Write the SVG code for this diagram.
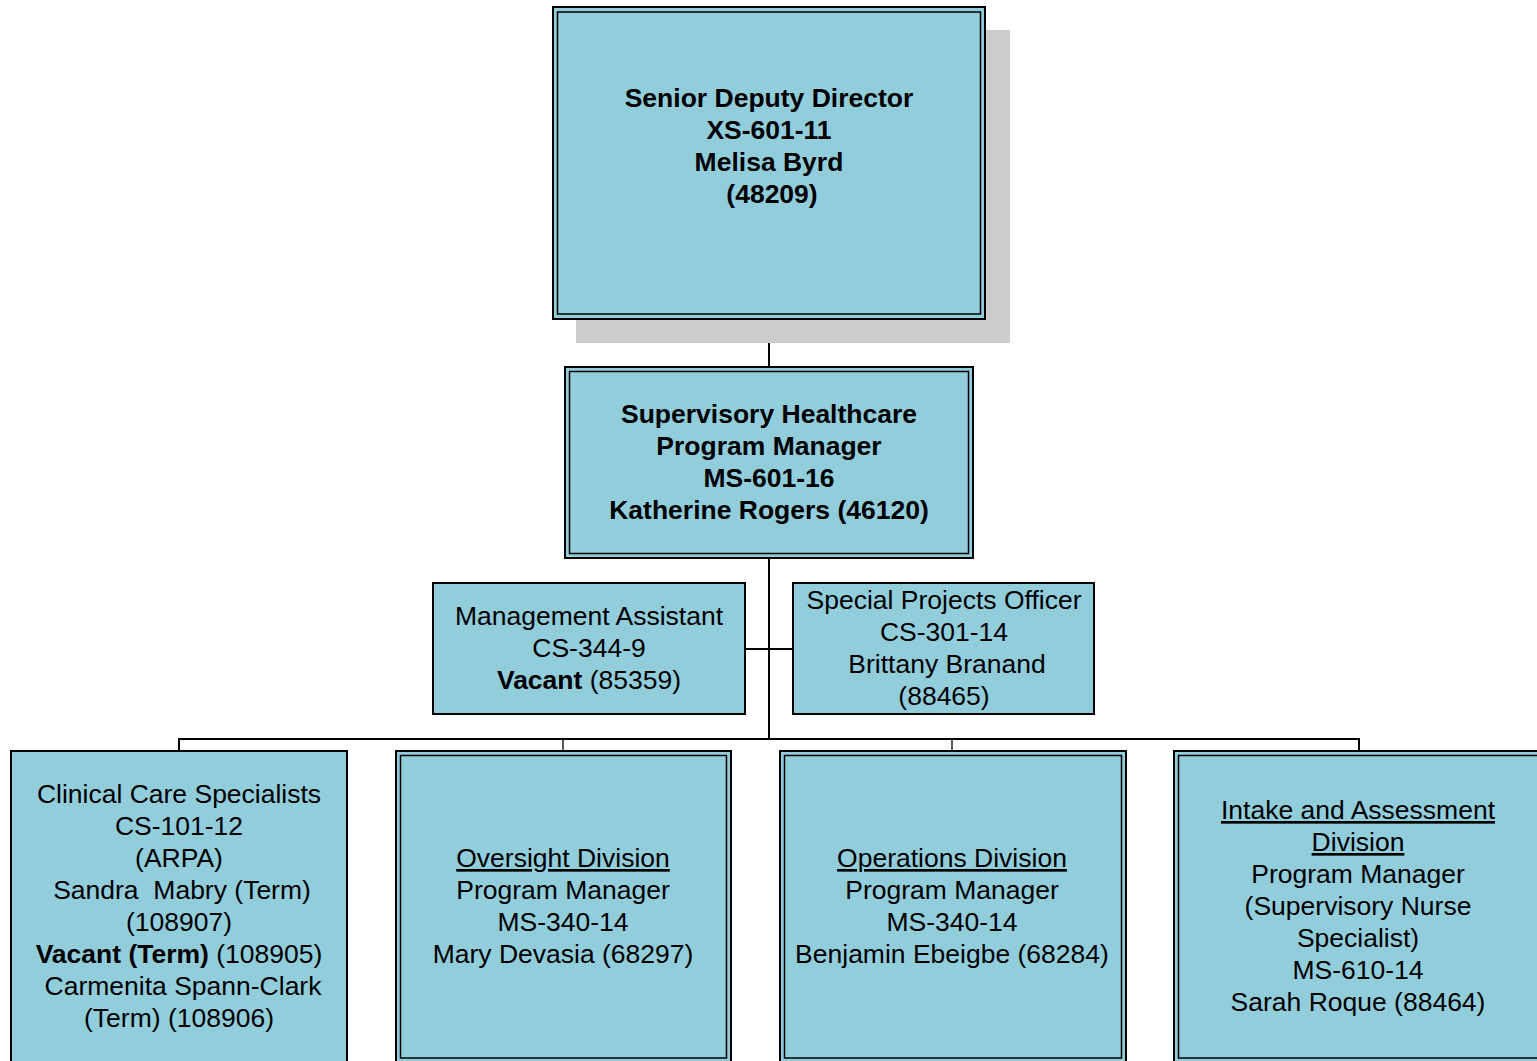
<svg xmlns="http://www.w3.org/2000/svg" width="1537" height="1061" viewBox="0 0 1537 1061">
<style>
.box{fill:#92CDDC;stroke:#000;stroke-width:2}
.inner{fill:none;stroke:#000;stroke-width:1.5}
.t{font-family:"Liberation Sans",Arial,sans-serif;font-size:26.5px;fill:#000;text-anchor:middle}
.b{font-weight:bold}
.u{text-decoration:underline}
.c{stroke:#000;stroke-width:2;fill:none}
.d{stroke:#000;stroke-width:1.3;fill:none}
</style>
<rect width="1537" height="1061" fill="#fff"/>
<g id="connectors">
<line class="c" x1="769" y1="319" x2="769" y2="367"/>
<line class="c" x1="769" y1="558" x2="769" y2="739"/>
<line class="c" x1="745" y1="649" x2="793" y2="649"/>
<line class="c" x1="178" y1="739" x2="1360" y2="739"/>
<line class="c" x1="179" y1="739" x2="179" y2="751"/>
<line class="d" x1="563" y1="739" x2="563" y2="751"/>
<line class="d" x1="952" y1="739" x2="952" y2="751"/>
<line class="c" x1="1359" y1="739" x2="1359" y2="751"/>
</g>
<g id="senior-deputy-director">
<rect x="576" y="30" width="434" height="313" fill="#CCCCCC"/>
<rect class="box" x="553" y="7" width="432" height="312"/>
<rect class="inner" x="557.5" y="12" width="423" height="302"/>
<text class="t b" x="769" y="107">Senior Deputy Director</text>
<text class="t b" x="769" y="139">XS-601-11</text>
<text class="t b" x="769" y="171">Melisa Byrd</text>
<text class="t b" x="772" y="203">(48209)</text>
</g>
<g id="supervisory-healthcare">
<rect class="box" x="565" y="367" width="408" height="191"/>
<rect class="inner" x="569.5" y="371.5" width="399" height="182"/>
<text class="t b" x="769" y="423">Supervisory Healthcare</text>
<text class="t b" x="769" y="455">Program Manager</text>
<text class="t b" x="769" y="487">MS-601-16</text>
<text class="t b" x="769" y="519">Katherine Rogers (46120)</text>
</g>
<g id="management-assistant">
<rect class="box" x="433" y="583" width="312" height="131"/>
<text class="t" x="589" y="625">Management Assistant</text>
<text class="t" x="589" y="657">CS-344-9</text>
<text class="t" x="589" y="689"><tspan class="b">Vacant</tspan> (85359)</text>
</g>
<g id="special-projects-officer">
<rect class="box" x="793" y="583" width="301" height="131"/>
<text class="t" x="944" y="609">Special Projects Officer</text>
<text class="t" x="944" y="641">CS-301-14</text>
<text class="t" x="947" y="673">Brittany Branand</text>
<text class="t" x="944" y="705">(88465)</text>
</g>
<g id="clinical-care-specialists">
<rect class="box" x="11" y="751" width="336" height="320"/>
<text class="t" x="179" y="803">Clinical Care Specialists</text>
<text class="t" x="179" y="835">CS-101-12</text>
<text class="t" x="179" y="867">(ARPA)</text>
<text class="t" x="182" y="899" xml:space="preserve">Sandra  Mabry (Term)</text>
<text class="t" x="179" y="931">(108907)</text>
<text class="t" x="179" y="963"><tspan class="b">Vacant (Term)</tspan> (108905)</text>
<text class="t" x="183" y="995">Carmenita Spann-Clark</text>
<text class="t" x="179" y="1027">(Term) (108906)</text>
</g>
<g id="oversight-division">
<rect class="box" x="396" y="751" width="335" height="320"/>
<rect class="inner" x="400.5" y="755.5" width="326" height="302.5"/>
<text class="t u" x="563" y="867">Oversight Division</text>
<text class="t" x="563" y="899">Program Manager</text>
<text class="t" x="563" y="931">MS-340-14</text>
<text class="t" x="563" y="963">Mary Devasia (68297)</text>
</g>
<g id="operations-division">
<rect class="box" x="780" y="751" width="346" height="320"/>
<rect class="inner" x="784.5" y="755.5" width="337" height="302.5"/>
<text class="t u" x="952" y="867">Operations Division</text>
<text class="t" x="952" y="899">Program Manager</text>
<text class="t" x="952" y="931">MS-340-14</text>
<text class="t" x="952" y="963">Benjamin Ebeigbe (68284)</text>
</g>
<g id="intake-assessment-division">
<rect class="box" x="1174" y="751" width="400" height="320"/>
<rect class="inner" x="1178.5" y="755.5" width="400" height="302.5"/>
<text class="t u" x="1358" y="819">Intake and Assessment</text>
<text class="t u" x="1358" y="851">Division</text>
<text class="t" x="1358" y="883">Program Manager</text>
<text class="t" x="1358" y="915">(Supervisory Nurse</text>
<text class="t" x="1358" y="947">Specialist)</text>
<text class="t" x="1358" y="979">MS-610-14</text>
<text class="t" x="1358" y="1011">Sarah Roque (88464)</text>
</g>
</svg>
